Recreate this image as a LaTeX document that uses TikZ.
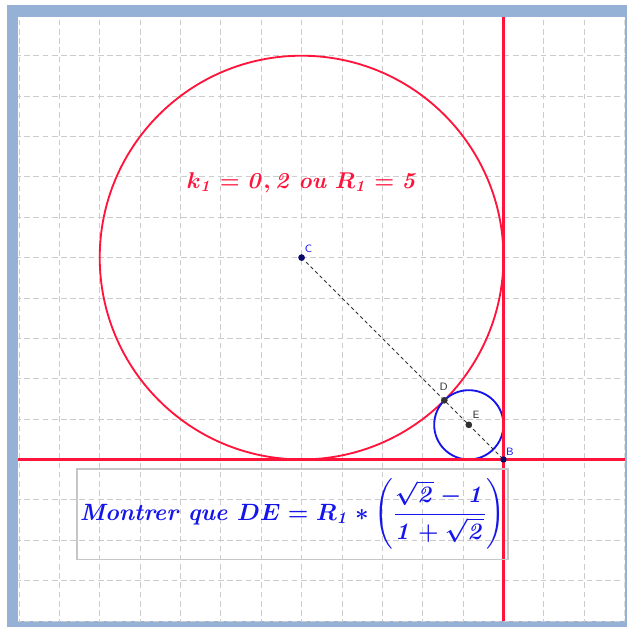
\documentclass[tikz,border=0pt]{standalone}
\usepackage{amsmath}
\usepackage{amssymb}
\usepackage{bm}
\usetikzlibrary{}

\definecolor{ggbframe}{RGB}{149,177,213}
\definecolor{ggbred}{RGB}{255,20,60}
\definecolor{ggbblue}{RGB}{20,20,235}
\definecolor{ptblue}{RGB}{10,10,110}
\definecolor{ptgray}{RGB}{50,50,50}

\begin{document}
\begin{tikzpicture}[
        grid line/.style={gray!40,line width=0.6pt,dash pattern=on 4pt off 2.5pt},
        ggb line/.style={draw=ggbred,line width=1.3pt},
        pt/.style={circle,fill=#1,inner sep=0pt,minimum size=4.5pt},
        lbl/.style={font=\sffamily\fontsize{7.5}{8}\selectfont,inner sep=0pt}
    ]
        % Frame
        \useasboundingbox (-7.47,-9.15) rectangle (8.06,6.38);
        \fill[ggbframe] (-7.3,-9.15) rectangle (8.06,6.25);
        \fill[white] (-7.02,-9.01) rectangle (8.0,5.97);

        % Grid
        \begin{scope}
            \clip (-7.02,-9.01) rectangle (8.0,5.97);
            \foreach \x in {-7,...,4,6,7,8}
                \draw[grid line] (\x,-9.1) -- (\x,6.1);
            \foreach \y in {-9,...,-6,-4,-3,...,6}
                \draw[grid line] (-7.1,\y) -- (8.1,\y);
        \end{scope}

        % Points
        \node[pt=ptblue] (C) at (0,0) {};
        \node[pt=ptblue] (B) at (5,-5) {};
        \node[pt=ptgray] (D) at ({5/sqrt(2)},{-5/sqrt(2)}) {};
        \node[pt=ptgray] (E) at ({5-5*(3-2*sqrt(2))},{-5+5*(3-2*sqrt(2))}) {};
        \coordinate (hL) at (-7.02,-5);
        \coordinate (hR) at (8.0,-5);
        \coordinate (vT) at (5,5.97);
        \coordinate (vB) at (5,-9.01);

        % Lines and circles
        \draw[ggb line] (C.center) circle (5);
        \draw[ggbblue,line width=1.3pt] (E.center) circle ({5*(3-2*sqrt(2))});
        \draw[ptgray,line width=0.6pt,dash pattern=on 2.5pt off 2pt] (C.center) -- (B.center);
        \draw[ggb line,line width=1.6pt] (hL) -- (hR);
        \draw[ggb line,line width=1.6pt] (vT) -- (vB);

        % redraw points on top
        \fill[ptblue] (C.center) circle (2.25pt);
        \fill[ptblue] (B.center) circle (2.25pt);
        \fill[ptgray] (D.center) circle (2.25pt);
        \fill[ptgray] (E.center) circle (2.25pt);

        % Labels
        \node[lbl,text=ggbblue] (labC) at (0.17,0.22) {C};
        \node[lbl,text=ptgray] (labD) at (3.52,-3.2) {D};
        \node[lbl,text=ptgray] (labE) at (4.32,-3.9) {E};
        \node[lbl,text=ggbblue] (labB) at (5.16,-4.81) {B};

        % Texts
        \node[text=ggbred,font=\fontsize{17.28}{20}\selectfont\boldmath] (k) at (0.02,1.86)
            {\scalebox{0.93}{$k_{\mathit{1}} = \mathit{0},\mathit{2}\ \mathit{ou}\ R_{\mathit{1}} = \mathit{5}$}};
        \node[draw=gray!45,line width=1.2pt,inner xsep=1pt,minimum width=10.67cm,minimum height=2.23cm,
              text=ggbblue,font=\fontsize{17.28}{20}\selectfont\bfseries\boldmath] (rel) at (-0.23,-6.36)
            {\scalebox{0.96}{$\textit{Montrer que } DE = R_{\mathit{1}} * \left(\dfrac{\sqrt{\mathit{2}}-\mathit{1}}{\mathit{1}+\sqrt{\mathit{2}}}\right)$}};
    \end{tikzpicture}
\end{document}
